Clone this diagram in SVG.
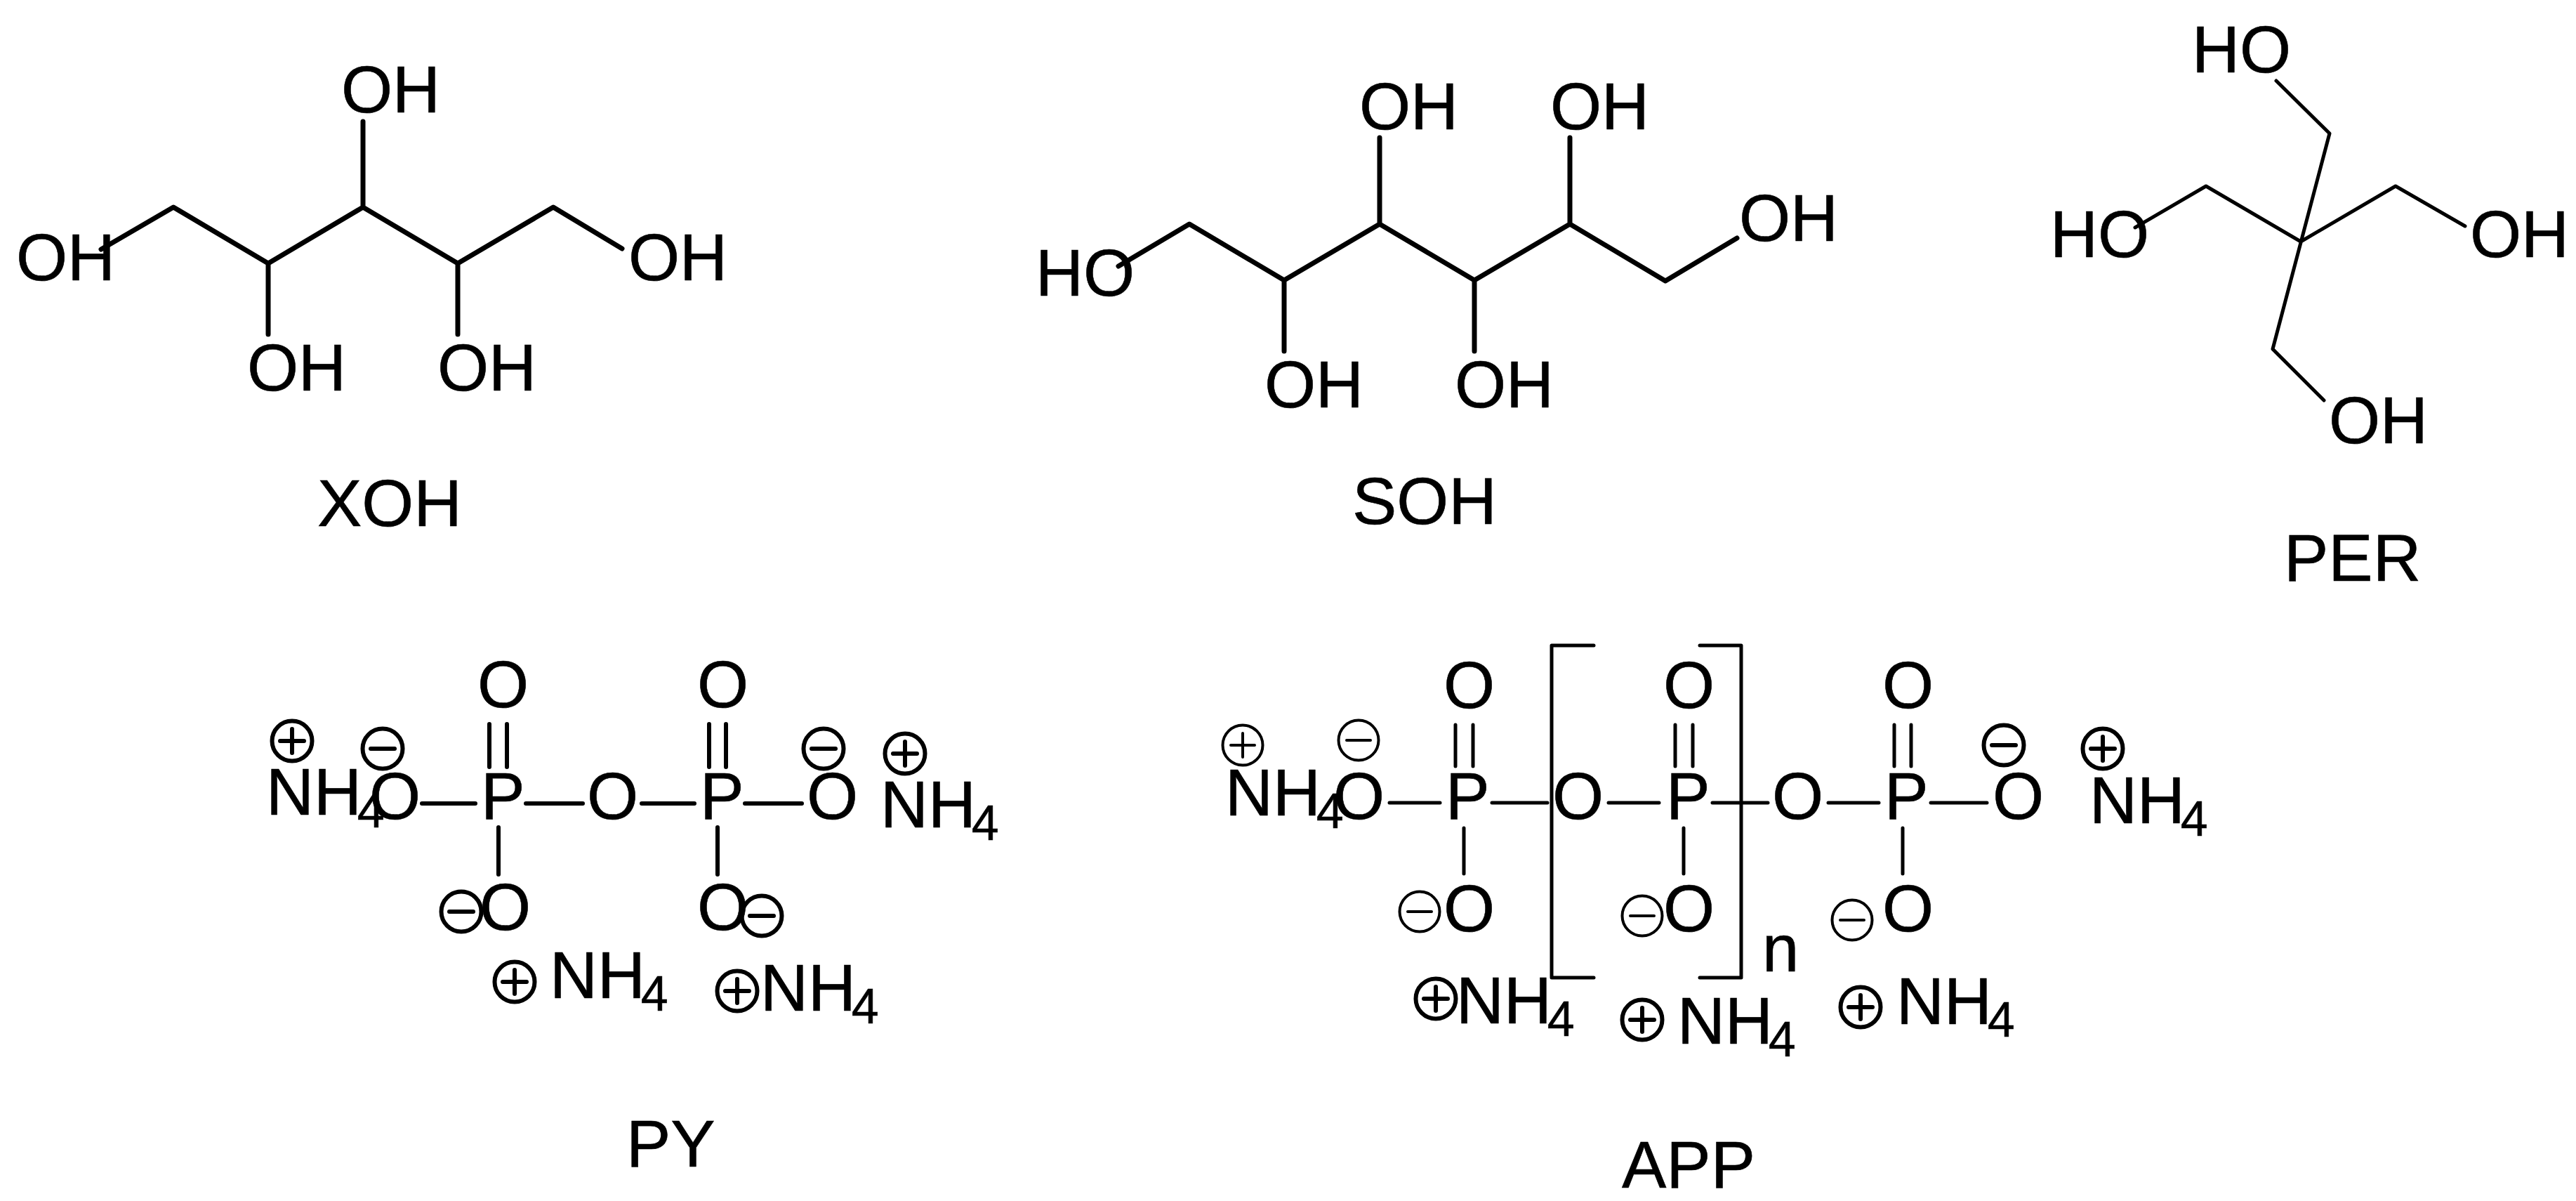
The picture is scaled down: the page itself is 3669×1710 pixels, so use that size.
<svg xmlns="http://www.w3.org/2000/svg" width="3669" height="1710" viewBox="0 0 3669 1710">
<style>
text{font-family:"Liberation Sans",Arial,sans-serif;font-size:94px;fill:#000;stroke:#000;stroke-width:.6}
.s{font-size:70px}
.l{font-size:95px}
path,circle{fill:none;stroke:#000;stroke-linecap:round;stroke-linejoin:round}
.b7{stroke-width:7}
.b6{stroke-width:6}
.b5{stroke-width:5}
.thick{stroke-width:6}
.thin{stroke-width:4}
</style>
<defs>
<g id="plus"><circle r="28.5"/><path d="M-17 0H17M0-17V17"/></g>
<g id="minus"><circle r="28.5"/><path d="M-17 0H17"/></g>
</defs>
<rect width="3669" height="1710" fill="#fff"/>
<g id="connectors">
<path class="b7" d="M144 355L247 295L382 375L517 295L652 375L788 295L886 354M517 173V295M382 375V476M652 375V476"/>
<path class="b7" d="M1593 379L1694 319L1829 399L1965 319L2100 399L2236 319L2372 400L2474 339M1965 196V319M2236 196V319M1829 399V500M2100 399V500"/>
<path class="b5" d="M3242 115L3318 190L3237 497L3310 570M3041 324L3142 265L3277 344L3412 265L3511 322"/>
<path class="b6" d="M601 1144H677M749 1144H830M914 1144H989M1061 1144H1142M697 1031V1092M722 1031V1092M1010 1031V1092M1034 1031V1092M710 1178V1245M1022 1178V1245"/>
<path class="b5" d="M1979 1143H2051M2125 1143H2204M2291 1143H2363M2439 1143H2518M2604 1143H2676M2750 1143H2830M2073 1032V1091M2098 1032V1091M2386 1032V1091M2411 1032V1091M2698 1032V1091M2722 1032V1091M2085 1179V1244M2398 1179V1244M2710 1179V1244"/>
<path class="b5" d="M2270 919H2210V1392H2270M2421 919H2480V1392H2421"/>
</g>
<g id="xoh">
<text x="486" y="160">OH</text><text x="23" y="399">OH</text><text x="895" y="399">OH</text><text x="352" y="556">OH</text><text x="623" y="556">OH</text>
<text class="l" x="452" y="749">XOH</text>
</g>
<g id="soh">
<text x="1936" y="184">OH</text><text x="2208" y="184">OH</text><text x="2477" y="343">OH</text><text x="1475" y="421">HO</text><text x="1801" y="580">OH</text><text x="2072" y="580">OH</text>
<text class="l" x="1926" y="746">SOH</text>
</g>
<g id="per">
<text x="3122" y="103">HO</text><text x="2920" y="366">HO</text><text x="3518" y="366">OH</text><text x="3317" y="631">OH</text>
<text class="l" x="3253" y="827">PER</text>
</g>
<g id="py">
<text x="379" y="1160">NH<tspan class="s" dx="-6" dy="18">4</tspan></text>
<text x="526" y="1166">O</text><text x="685" y="1166">P</text><text x="836" y="1166">O</text><text x="997" y="1166">P</text><text x="1149" y="1166">O</text>
<text x="1254" y="1178">NH<tspan class="s" dx="-6" dy="18">4</tspan></text>
<text x="680" y="1007">O</text><text x="993" y="1007">O</text><text x="683" y="1324">O</text><text x="993" y="1324">O</text>
<text x="783" y="1421">NH<tspan class="s" dx="-6" dy="18">4</tspan></text>
<text x="1083" y="1439">NH<tspan class="s" dx="-6" dy="18">4</tspan></text>
<use href="#plus" class="thick" x="416" y="1055"/><use href="#minus" class="thick" x="545" y="1066"/><use href="#minus" class="thick" x="1173" y="1066"/><use href="#plus" class="thick" x="1289" y="1073"/><use href="#minus" class="thick" x="657" y="1298"/><use href="#minus" class="thick" x="1085" y="1304"/><use href="#plus" class="thick" x="733" y="1398"/><use href="#plus" class="thick" x="1050" y="1411"/>
<text class="l" x="892" y="1661">PY</text>
</g>
<g id="app">
<text x="1745" y="1161">NH<tspan class="s" dx="-6" dy="18">4</tspan></text>
<text x="1899" y="1166">O</text><text x="2059" y="1166">P</text><text x="2211" y="1166">O</text><text x="2373" y="1166">P</text><text x="2524" y="1166">O</text><text x="2684" y="1166">P</text><text x="2838" y="1166">O</text>
<text x="2976" y="1172">NH<tspan class="s" dx="-6" dy="18">4</tspan></text>
<text x="2056" y="1008">O</text><text x="2369" y="1008">O</text><text x="2681" y="1008">O</text>
<text x="2056" y="1326">O</text><text x="2369" y="1326">O</text><text x="2681" y="1326">O</text>
<text x="2510" y="1383">n</text>
<text x="2074" y="1457">NH<tspan class="s" dx="-6" dy="18">4</tspan></text>
<text x="2389" y="1486">NH<tspan class="s" dx="-6" dy="18">4</tspan></text>
<text x="2701" y="1458">NH<tspan class="s" dx="-6" dy="18">4</tspan></text>
<use href="#plus" class="thin" x="1770" y="1061"/><use href="#minus" class="thin" x="1935" y="1054"/><use href="#minus" class="thin" x="2022" y="1298"/><use href="#minus" class="thin" x="2339" y="1304"/><use href="#minus" class="thin" x="2638" y="1310"/><use href="#minus" class="thick" x="2854" y="1061"/><use href="#plus" class="thick" x="2995" y="1066"/><use href="#plus" class="thick" x="2045" y="1422"/><use href="#plus" class="thick" x="2339" y="1452"/><use href="#plus" class="thick" x="2650" y="1434"/>
<text class="l" x="2310" y="1691">APP</text>
</g>
</svg>
